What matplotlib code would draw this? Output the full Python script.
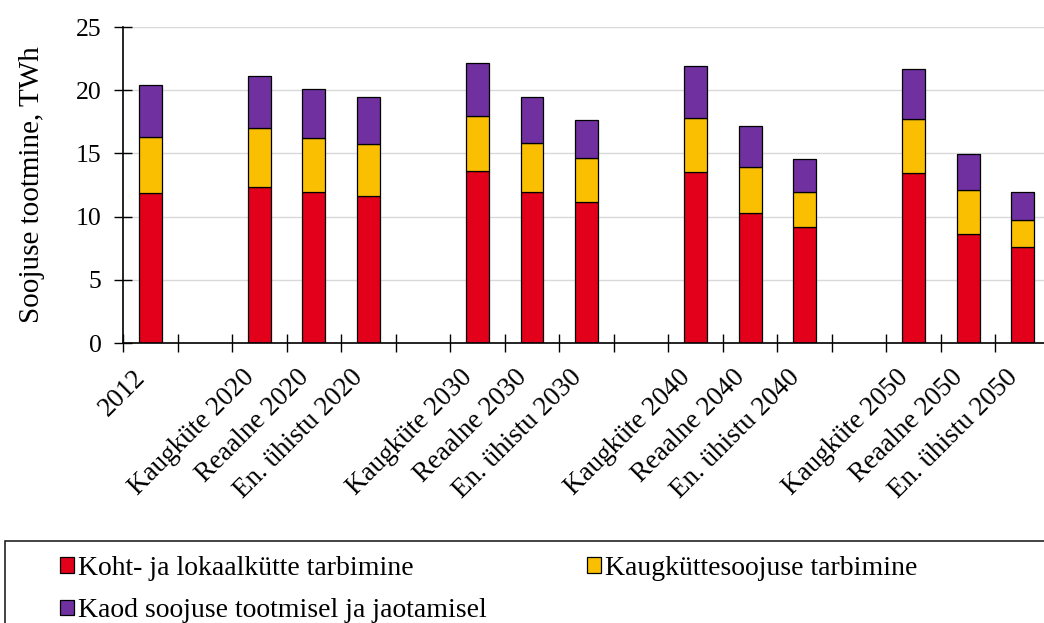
import matplotlib
matplotlib.use("Agg")
import matplotlib.pyplot as plt
from matplotlib.patches import Rectangle
import numpy as np

plt.rcParams['font.family'] = ['Liberation Serif', 'DejaVu Serif']

# category slots, '' = empty gap between scenario groups
categories = ['2012', '',
              'Kaugküte 2020', 'Reaalne 2020', 'En. ühistu 2020', '',
              'Kaugküte 2030', 'Reaalne 2030', 'En. ühistu 2030', '',
              'Kaugküte 2040', 'Reaalne 2040', 'En. ühistu 2040', '',
              'Kaugküte 2050', 'Reaalne 2050', 'En. ühistu 2050']

# TWh per bar (non-empty slots only, in order)
koht = [11.84, 12.37, 11.92, 11.63, 13.58, 11.92, 11.13, 13.50, 10.26, 9.15, 13.42, 8.60, 7.57]
kaug = [4.46, 4.66, 4.27, 4.11, 4.38, 3.93, 3.51, 4.33, 3.66, 2.82, 4.33, 3.53, 2.16]
kaod = [4.09, 4.07, 3.88, 3.72, 4.19, 3.61, 3.03, 4.08, 3.22, 2.56, 3.95, 2.82, 2.19]

series_names = ['Koht- ja lokaalkütte tarbimine',
                'Kaugküttesoojuse tarbimine',
                'Kaod soojuse tootmisel ja jaotamisel']
colors = ['#E2001A', '#F9BF00', '#7030A0']

pos = [i for i, c in enumerate(categories) if c]

fig = plt.figure(figsize=(10.44, 6.23), dpi=100)
W, H = 1044, 623
ax = fig.add_axes([123 / W, 1 - 343 / H, (1050 - 123) / W, (343 - 27) / H])

bw = 0.42
bottom = np.zeros(len(pos))
bars = []
for vals, col, name in zip([koht, kaug, kaod], colors, series_names):
    b = ax.bar(pos, vals, bw, bottom=bottom, color=col, edgecolor='black',
               linewidth=0.9, label=name, zorder=3)
    bars.append(b)
    bottom += np.array(vals)

ax.set_xlim(-0.5, len(categories) - 0.5)
ax.set_ylim(0, 25)
ax.set_yticks(range(0, 26, 5))
ax.yaxis.grid(True, color='#D9D9D9', linewidth=1.0, zorder=0)

ax.set_xticks(range(len(categories)))
ax.set_xticklabels(categories, rotation=45, ha='right', va='top', fontsize=19.5)
ax.set_xticks(np.arange(-0.5, len(categories), 1), minor=True)
ax.tick_params(axis='x', which='major', length=0, pad=16)
ax.tick_params(axis='x', which='minor', direction='inout', length=13, width=1.0)
ax.tick_params(axis='y', direction='inout', length=13, width=1.0, labelsize=18.5, pad=9)

for s in ['top', 'right']:
    ax.spines[s].set_visible(False)
for s in ['left', 'bottom']:
    ax.spines[s].set_linewidth(1.2)
    ax.spines[s].set_zorder(4)

ax.set_ylabel('Soojuse tootmine, TWh', fontsize=21, labelpad=22)

# legend box running off the lower right edge
fig.patches.append(Rectangle((5 / W, -0.1), 1.1, 1 - 541 / H + 0.1,
                             transform=fig.transFigure, fill=False,
                             edgecolor='#222222', linewidth=1.2))
handles = [bars[0], bars[2], bars[1]]
labels = [series_names[0], series_names[2], series_names[1]]
fig.legend(handles, labels, ncol=2, loc='upper left',
           bbox_to_anchor=(49 / W, 1 - 545 / H), frameon=False, fontsize=20,
           handlelength=0.5, handleheight=0.5, handletextpad=0.15,
           columnspacing=3.6, labelspacing=0.62, borderaxespad=0)

fig.savefig('out.png', dpi=100)
